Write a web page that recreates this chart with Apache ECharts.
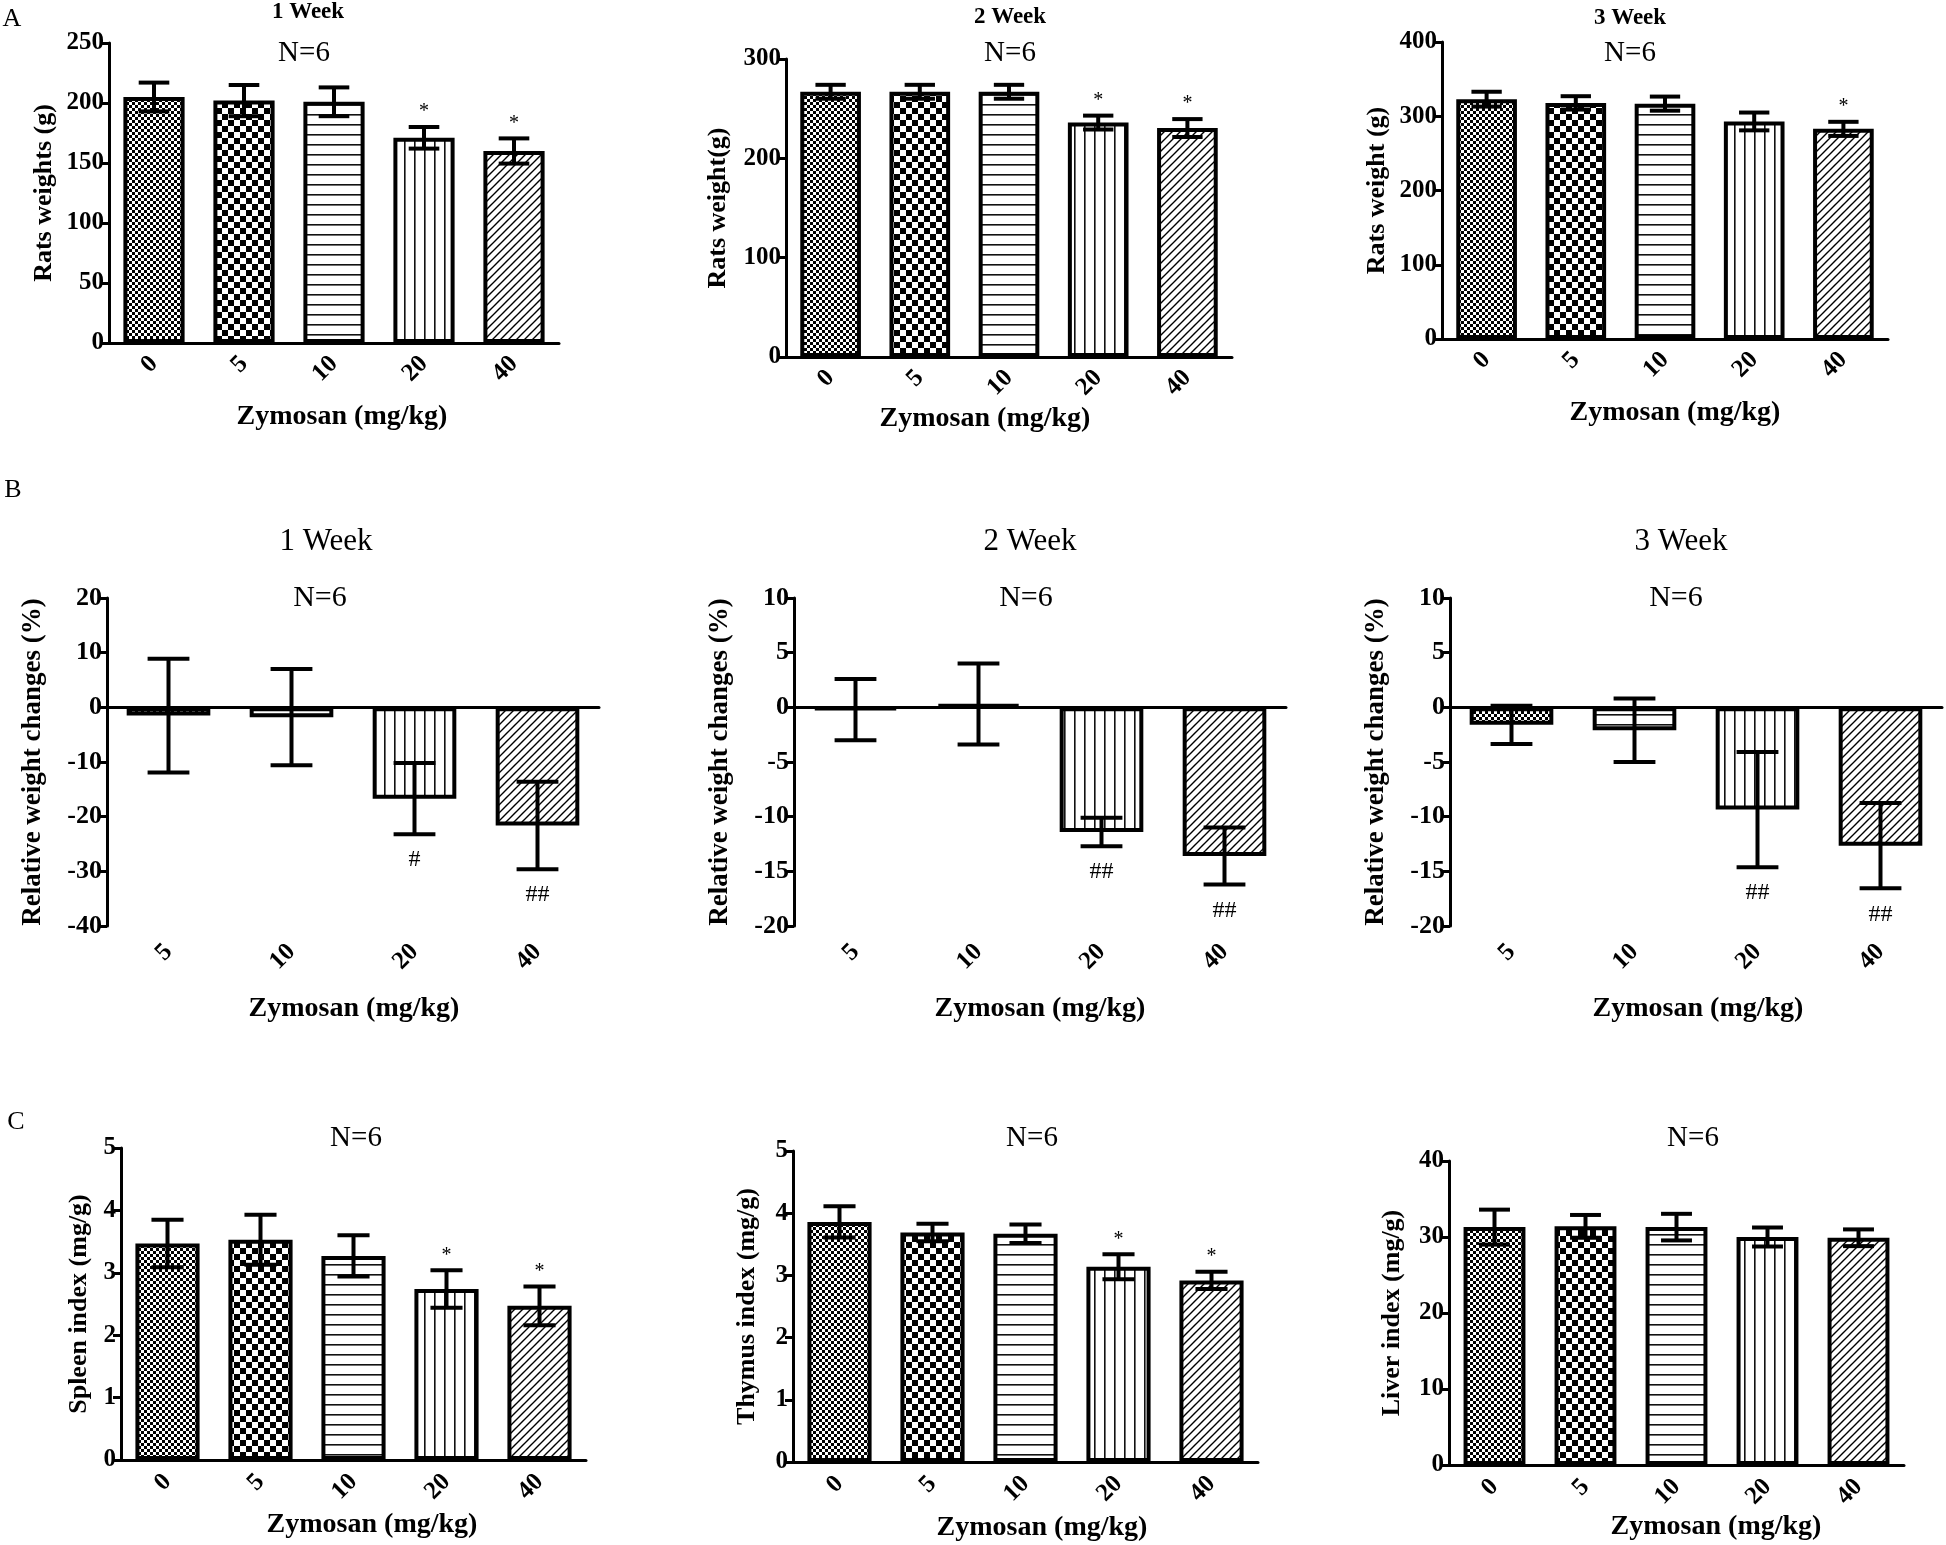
<!DOCTYPE html>
<html>
<head>
<meta charset="utf-8">
<script src="https://cdn.jsdelivr.net/npm/echarts@6/dist/echarts.min.js"></script>
<style>
html,body{margin:0;padding:0;background:#fff;}
#chart{width:1946px;height:1545px;}
</style>
</head>
<body>
<div id="chart"></div>
<script>
// ---------- data ----------
const catsA = ['0', '5', '10', '20', '40'];
const catsB = ['5', '10', '20', '40'];

const a1Mean = [205, 202, 201, 171, 160];
const a1Err  = [12, 13, 12, 9, 10.5];
const a2Mean = [267, 267, 267, 236, 230.5];
const a2Err  = [7, 7, 7, 7, 9];
const a3Mean = [323, 318, 317, 293, 283];
const a3Err  = [10, 9, 9.5, 12, 9.5];

const b1Mean = [-1.5, -1.8, -16.7, -21.6];
const b1Err  = [10.4, 8.8, 6.5, 8];
const b2Mean = [-0.2, 0.3, -11.4, -13.6];
const b2Err  = [2.8, 3.7, 1.3, 2.6];
const b3Mean = [-1.6, -2.1, -9.35, -12.65];
const b3Err  = [1.75, 2.9, 5.27, 3.9];

const c1Mean = [3.47, 3.53, 3.27, 2.74, 2.47];
const c1Err  = [0.38, 0.4, 0.33, 0.3, 0.31];
const c2Mean = [3.86, 3.69, 3.67, 3.14, 2.92];
const c2Err  = [0.25, 0.14, 0.15, 0.2, 0.14];
const c3Mean = [31.3, 31.4, 31.3, 30.0, 29.9];
const c3Err  = [2.3, 1.5, 1.75, 1.25, 1.1];

const a1Sig = ['', '', '', '*', '*'];
const a2Sig = ['', '', '', '*', '*'];
const a3Sig = ['', '', '', '', '*'];
const b1Sig = ['', '', '#', '##'];
const b2Sig = ['', '', '##', '##'];
const b3Sig = ['', '', '##', '##'];
const c1Sig = ['', '', '', '*', '*'];
const c2Sig = ['', '', '', '*', '*'];
const c3Sig = ['', '', '', '', ''];

const ticksA1 = [0, 50, 100, 150, 200, 250];
const ticksA2 = [0, 100, 200, 300];
const ticksA3 = [0, 100, 200, 300, 400];
const ticksB1 = [-40, -30, -20, -10, 0, 10, 20];
const ticksB2 = [-20, -15, -10, -5, 0, 5, 10];
const ticksB3 = [-20, -15, -10, -5, 0, 5, 10];
const ticksC1 = [0, 1, 2, 3, 4, 5];
const ticksC2 = [0, 1, 2, 3, 4, 5];
const ticksC3 = [0, 10, 20, 30, 40];

const weekTitles = ['1 Week', '2 Week', '3 Week'];
const nLabel = 'N=6';
const xName = 'Zymosan (mg/kg)';
const panelLetters = ['A', 'B', 'C'];

// ---------- patterns ----------
const FF = '"Liberation Serif", "Times New Roman", Times, serif';
function makePattern(kind) {
  const c = document.createElement('canvas');
  let s = 10;
  if (kind === 'fine') s = 6;
  if (kind === 'checker') s = 12;
  if (kind === 'diag') s = 8;
  c.width = s; c.height = s;
  const ctx = c.getContext('2d');
  ctx.fillStyle = '#fff';
  ctx.fillRect(0, 0, s, s);
  ctx.fillStyle = '#000';
  ctx.strokeStyle = '#000';
  if (kind === 'fine') {
    ctx.fillRect(0, 0, 3, 3); ctx.fillRect(3, 3, 3, 3);
  } else if (kind === 'checker') {
    ctx.fillRect(0, 0, 6, 6); ctx.fillRect(6, 6, 6, 6);
  } else if (kind === 'hlines') {
    ctx.fillStyle = '#111'; ctx.fillRect(0, 4, s, 1.6);
  } else if (kind === 'vlines') {
    ctx.fillStyle = '#111'; ctx.fillRect(4, 0, 1.6, s);
  } else if (kind === 'diag') {
    ctx.lineWidth = 1.4;
    ctx.beginPath();
    ctx.moveTo(-1, s + 1); ctx.lineTo(s + 1, -1);
    ctx.moveTo(-1, 1); ctx.lineTo(1, -1);
    ctx.moveTo(s - 1, s + 1); ctx.lineTo(s + 1, s - 1);
    ctx.stroke();
  }
  return { image: c, repeat: 'repeat' };
}
const PAT = {
  fine: makePattern('fine'), checker: makePattern('checker'),
  hlines: makePattern('hlines'), vlines: makePattern('vlines'), diag: makePattern('diag')
};
const patA = { '0': PAT.fine, '5': PAT.checker, '10': PAT.hlines, '20': PAT.vlines, '40': PAT.diag };
const patB = { '5': PAT.fine, '10': PAT.hlines, '20': PAT.vlines, '40': PAT.diag };

// ---------- panels (layout) ----------
const panels = [
  { cats: catsA, mean: a1Mean, err: a1Err, sig: a1Sig, ticks: ticksA1, pat: patA,
    grid: { left: 109, top: 43, width: 450, height: 300 }, yName: 'Rats weights (g)', nameGap: 52,
    gap: 0.32, row: 'A', xMargin: 17, xNamePos: [342, 417] },
  { cats: catsA, mean: a2Mean, err: a2Err, sig: a2Sig, ticks: ticksA2, pat: patA,
    grid: { left: 786, top: 59, width: 446, height: 298 }, yName: 'Rats weight(g)', nameGap: 55,
    gap: 0.32, row: 'A', xMargin: 17, xNamePos: [985, 419] },
  { cats: catsA, mean: a3Mean, err: a3Err, sig: a3Sig, ticks: ticksA3, pat: patA,
    grid: { left: 1442, top: 42, width: 446, height: 297 }, yName: 'Rats weight (g)', nameGap: 52,
    gap: 0.32, row: 'A', xMargin: 17, xNamePos: [1675, 413] },
  { cats: catsB, mean: b1Mean, err: b1Err, sig: b1Sig, ticks: ticksB1, pat: patB,
    grid: { left: 107, top: 598, width: 492, height: 328 }, yName: 'Relative weight changes (%)', nameGap: 60,
    gap: 0.32, row: 'B', xMargin: 22, xNamePos: [354, 1009] },
  { cats: catsB, mean: b2Mean, err: b2Err, sig: b2Sig, ticks: ticksB2, pat: patB,
    grid: { left: 794, top: 598, width: 492, height: 328 }, yName: 'Relative weight changes (%)', nameGap: 60,
    gap: 0.32, row: 'B', xMargin: 22, xNamePos: [1040, 1009] },
  { cats: catsB, mean: b3Mean, err: b3Err, sig: b3Sig, ticks: ticksB3, pat: patB,
    grid: { left: 1450, top: 598, width: 492, height: 328 }, yName: 'Relative weight changes (%)', nameGap: 60,
    gap: 0.32, row: 'B', xMargin: 22, xNamePos: [1698, 1009] },
  { cats: catsA, mean: c1Mean, err: c1Err, sig: c1Sig, ticks: ticksC1, pat: patA,
    grid: { left: 121, top: 1148, width: 465, height: 312 }, yName: 'Spleen index (mg/g)', nameGap: 29,
    gap: 0.31, row: 'C', xMargin: 18, xNamePos: [372, 1525] },
  { cats: catsA, mean: c2Mean, err: c2Err, sig: c2Sig, ticks: ticksC2, pat: patA,
    grid: { left: 793, top: 1151, width: 465, height: 311 }, yName: 'Thymus index (mg/g)', nameGap: 33,
    gap: 0.31, row: 'C', xMargin: 18, xNamePos: [1042, 1528] },
  { cats: catsA, mean: c3Mean, err: c3Err, sig: c3Sig, ticks: ticksC3, pat: patA,
    grid: { left: 1449, top: 1161, width: 455, height: 304 }, yName: 'Liver index (mg/g)', nameGap: 44,
    gap: 0.32, row: 'C', xMargin: 18, xNamePos: [1716, 1527] }
];

// ---------- build option ----------
const grids = [], xAxes = [], yAxes = [], series = [];
panels.forEach((p, i) => {
  grids.push(Object.assign({ containLabel: false, outerBoundsMode: 'none' }, p.grid));
  xAxes.push({
    type: 'category', gridIndex: i, data: p.cats,
    axisLine: { lineStyle: { color: '#000', width: 3 } },
    axisTick: { alignWithLabel: true, length: 8, lineStyle: { color: '#000', width: 3 } },
    axisLabel: { rotate: 45, interval: 0, margin: p.xMargin, color: '#000', fontFamily: FF,
      fontWeight: 'bold', fontSize: 25 },
    splitLine: { show: false }
  });
  const t = p.ticks;
  yAxes.push({
    type: 'value', gridIndex: i, min: t[0], max: t[t.length - 1], interval: t[1] - t[0],
    name: p.yName, nameLocation: 'middle', nameGap: p.nameGap,
    nameTextStyle: { color: '#000', fontFamily: FF, fontWeight: 'bold', fontSize: p.row === 'B' ? 27 : 26 },
    axisLine: { show: true, lineStyle: { color: '#000', width: 3 } },
    axisTick: { show: true, length: 8, lineStyle: { color: '#000', width: 3 } },
    axisLabel: { margin: 5, color: '#000', fontFamily: FF, fontWeight: 'bold', fontSize: p.row === 'B' ? 26 : 25 },
    splitLine: { show: false }
  });
  const bar = {
    type: 'bar', xAxisIndex: i, yAxisIndex: i,
    barCategoryGap: Math.round(p.gap * 100) + '%',
    data: p.mean.map((v, j) => ({ value: v, itemStyle: { color: p.pat[p.cats[j]] } })),
    itemStyle: { borderColor: '#000', borderWidth: 4 },
    z: 2
  };
  if (p.row === 'B') {
    bar.markLine = {
      silent: true, symbol: ['none', 'none'], label: { show: false },
      lineStyle: { color: '#000', width: 3, type: 'solid' },
      data: [{ yAxis: 0 }], z: 5
    };
  }
  series.push(bar);
  const errData = p.mean.map((m, j) => [j, m, p.err[j]]);
  series.push({
    type: 'custom', xAxisIndex: i, yAxisIndex: i, data: errData, z: 6,
    encode: { x: 0, y: 1 },
    renderItem: function (params, api) {
      const x = api.value(0), m = api.value(1), e = api.value(2);
      const top = api.coord([x, m + e]);
      const bot = api.coord([x, m - e]);
      const half = api.size([1, 0])[0] * (1 - p.gap) * 0.25;
      const st = { stroke: '#000', lineWidth: 4, fill: null };
      return {
        type: 'group', children: [
          { type: 'line', shape: { x1: top[0], y1: top[1], x2: bot[0], y2: bot[1] }, style: st },
          { type: 'line', shape: { x1: top[0] - half, y1: top[1], x2: top[0] + half, y2: top[1] }, style: st },
          { type: 'line', shape: { x1: bot[0] - half, y1: bot[1], x2: bot[0] + half, y2: bot[1] }, style: st }
        ]
      };
    }
  });
  series.push({
    type: 'custom', xAxisIndex: i, yAxisIndex: i, data: errData, z: 7,
    encode: { x: 0, y: 1 },
    renderItem: function (params, api) {
      const s = p.sig[params.dataIndex];
      if (!s) return null;
      const x = api.value(0), m = api.value(1), e = api.value(2);
      const below = s.indexOf('#') >= 0;
      const pt = api.coord([x, below ? m - e : m + e]);
      return {
        type: 'text', x: pt[0], y: below ? pt[1] + 14 : pt[1] - 5,
        style: {
          text: s, fill: '#000',
          font: (below ? '24px ' : '20px ') + FF,
          align: 'center', verticalAlign: below ? 'top' : 'bottom',
          textAlign: 'center', textVerticalAlign: below ? 'top' : 'bottom'
        }
      };
    }
  });
});

// ---------- texts ----------
function txt(text, x, y, font) {
  return { type: 'text', x: x, y: y, z: 10,
    style: { text: text, fill: '#000', font: font, align: 'center', verticalAlign: 'middle',
      textAlign: 'center', textVerticalAlign: 'middle' } };
}
const graphics = [];
graphics.push(txt(panelLetters[0], 12, 19, '26px ' + FF));
graphics.push(txt(panelLetters[1], 13, 490, '26px ' + FF));
graphics.push(txt(panelLetters[2], 16, 1122, '26px ' + FF));
// row A titles
[[308, 12], [1010, 17], [1630, 18]].forEach((pos, k) => {
  graphics.push(txt(weekTitles[k], pos[0], pos[1], 'bold 23px ' + FF));
});
[[304, 53], [1010, 53], [1630, 53]].forEach(pos => graphics.push(txt(nLabel, pos[0], pos[1], '29px ' + FF)));
// row B titles
[[326, 542], [1030, 542], [1681, 542]].forEach((pos, k) => {
  graphics.push(txt(weekTitles[k], pos[0], pos[1], '31px ' + FF));
});
[[320, 598], [1026, 598], [1676, 598]].forEach(pos => graphics.push(txt(nLabel, pos[0], pos[1], '30px ' + FF)));
// row C
[[356, 1138], [1032, 1138], [1693, 1138]].forEach(pos => graphics.push(txt(nLabel, pos[0], pos[1], '29px ' + FF)));
// x axis names
panels.forEach(p => graphics.push(txt(xName, p.xNamePos[0], p.xNamePos[1], 'bold 28px ' + FF)));

const chart = echarts.init(document.getElementById('chart'), null, { renderer: 'canvas' });
chart.setOption({
  animation: false,
  backgroundColor: '#fff',
  grid: grids, xAxis: xAxes, yAxis: yAxes, series: series,
  graphic: { elements: graphics }
});
</script>
</body>
</html>
